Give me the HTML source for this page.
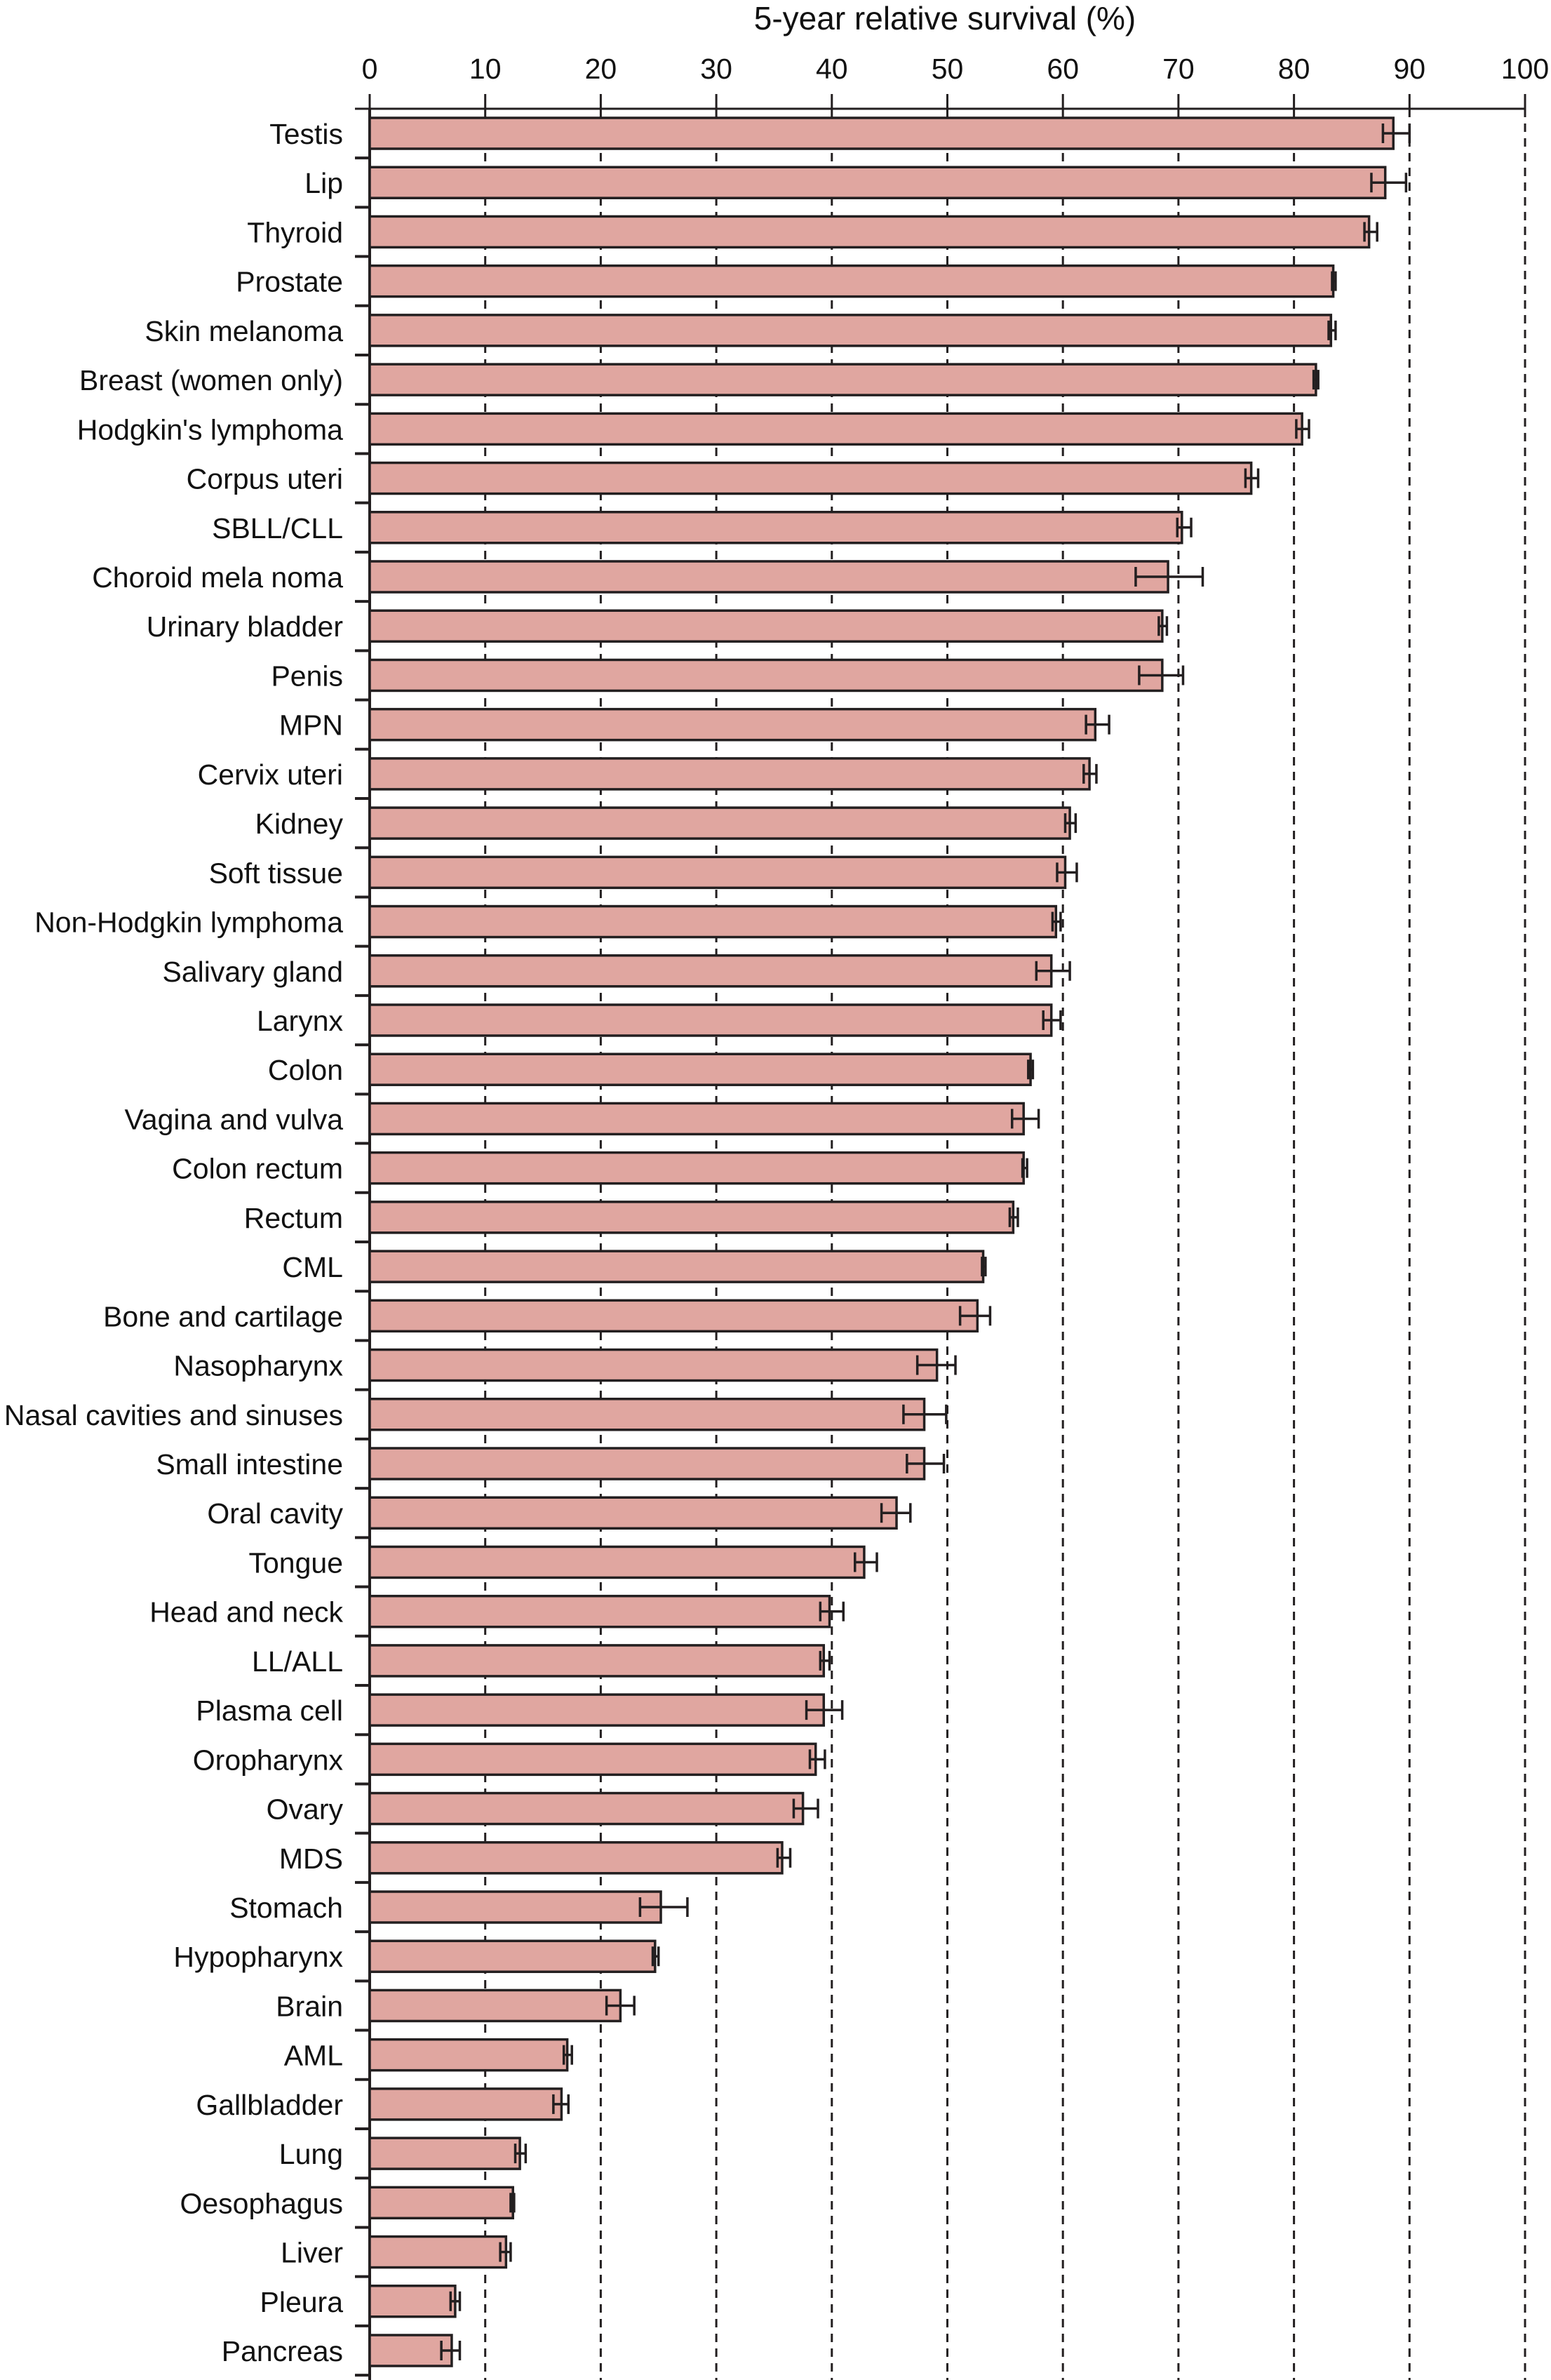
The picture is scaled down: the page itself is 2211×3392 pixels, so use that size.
<!DOCTYPE html>
<html><head><meta charset="utf-8"><style>
html,body{margin:0;padding:0;background:#fff;}
svg{display:block;}
text{font-family:"Liberation Sans",sans-serif;fill:#111;}
</style></head>
<body>
<svg id="chart" width="2211" height="3392" viewBox="0 0 2211 3392" xmlns="http://www.w3.org/2000/svg">
<text x="1347" y="42" font-size="46" text-anchor="middle">5-year relative survival (%)</text>
<g id="grid"></g><g id="axes"></g><g id="bars"></g><g id="labels"></g>
</svg>
<script>
const categories = ["Testis","Lip","Thyroid","Prostate","Skin melanoma","Breast (women only)","Hodgkin's lymphoma","Corpus uteri","SBLL/CLL","Choroid mela noma","Urinary bladder","Penis","MPN","Cervix uteri","Kidney","Soft tissue","Non-Hodgkin lymphoma","Salivary gland","Larynx","Colon","Vagina and vulva","Colon rectum","Rectum","CML","Bone and cartilage","Nasopharynx","Nasal cavities and sinuses","Small intestine","Oral cavity","Tongue","Head and neck","LL/ALL","Plasma cell","Oropharynx","Ovary","MDS","Stomach","Hypopharynx","Brain","AML","Gallbladder","Lung","Oesophagus","Liver","Pleura","Pancreas"];
const survival = [88.6,87.9,86.5,83.4,83.2,81.9,80.7,76.3,70.3,69.1,68.6,68.6,62.8,62.3,60.6,60.2,59.4,59.0,59.0,57.2,56.6,56.6,55.7,53.1,52.6,49.1,48.0,48.0,45.6,42.8,39.8,39.3,39.3,38.6,37.5,35.7,25.2,24.7,21.7,17.1,16.6,13.0,12.4,11.8,7.4,7.1];
const ciLow = [87.7,86.7,86.1,83.3,83.0,81.7,80.2,75.8,69.9,66.3,68.3,66.6,62.0,61.8,60.2,59.5,59.1,57.7,58.3,57.0,55.6,56.5,55.4,53.0,51.1,47.4,46.2,46.5,44.3,42.0,39.0,39.0,37.8,38.1,36.7,35.3,23.4,24.5,20.5,16.8,15.9,12.6,12.2,11.3,7.0,6.2];
const ciHigh = [90.0,89.7,87.2,83.6,83.6,82.1,81.3,76.9,71.1,72.1,69.0,70.4,64.0,62.9,61.1,61.2,59.8,60.6,59.8,57.4,57.9,56.9,56.1,53.3,53.7,50.7,49.9,49.7,46.8,43.9,41.0,39.8,40.9,39.4,38.8,36.4,27.5,25.0,22.9,17.5,17.2,13.5,12.5,12.2,7.8,7.8];
const xTicks = [0,10,20,30,40,50,60,70,80,90,100];

const NS="http://www.w3.org/2000/svg";
const X0=527, UNIT=16.47, AXY=155, FIRST=190, BOTTOM=3392, BH=44;
const PITCH=(3350-FIRST)/(categories.length-1);
const xs=v=>X0+v*UNIT;
const ys=i=>FIRST+i*PITCH;
function mk(tag,attrs,parent){const e=document.createElementNS(NS,tag);for(const k in attrs)e.setAttribute(k,attrs[k]);parent.appendChild(e);return e;}
const grid=document.getElementById('grid'),axes=document.getElementById('axes'),bars=document.getElementById('bars'),labels=document.getElementById('labels');
xTicks.forEach(t=>{
  if(t>0){const g=mk('line',{x1:xs(t),x2:xs(t),y1:AXY,y2:BOTTOM,stroke:'#231f20','stroke-width':3,'stroke-dasharray':'12 9'},grid);
  
  }
  const tk=mk('line',{x1:xs(t),x2:xs(t),y1:134,y2:AXY,stroke:'#231f20','stroke-width':3},axes);
  
  
  const tl=mk('text',{x:xs(t),y:112,'font-size':41,'text-anchor':'middle'},axes);tl.textContent=t;
  
  
});
const ax=mk('line',{x1:506,x2:xs(100),y1:AXY,y2:AXY,stroke:'#231f20','stroke-width':3},axes);


const ay=mk('line',{x1:X0,x2:X0,y1:AXY,y2:BOTTOM,stroke:'#231f20','stroke-width':4},axes);


for(let i=0;i<categories.length;i++){
  const yb=ys(i)+PITCH/2;
  const lt=mk('line',{x1:506,x2:X0,y1:yb,y2:yb,stroke:'#231f20','stroke-width':4},axes);
  
  
}
categories.forEach((c,i)=>{
  const cy=ys(i);
  const r=mk('rect',{x:X0,y:cy-BH/2,width:xs(survival[i])-X0,height:BH,fill:'#e0a6a0',stroke:'#231f20','stroke-width':3.5},bars);
  
  
  const eg=mk('g',{stroke:'#231f20','stroke-width':3.5},bars);
  
  
  mk('line',{x1:xs(ciLow[i]),x2:xs(ciHigh[i]),y1:cy,y2:cy},eg);
  mk('line',{x1:xs(ciLow[i]),x2:xs(ciLow[i]),y1:cy-14,y2:cy+14},eg);
  mk('line',{x1:xs(ciHigh[i]),x2:xs(ciHigh[i]),y1:cy-14,y2:cy+14},eg);
  const t=mk('text',{x:489,y:cy+15,'font-size':41,'text-anchor':'end'},labels);
  t.textContent=c;
  
  
});
</script>
</body></html>
